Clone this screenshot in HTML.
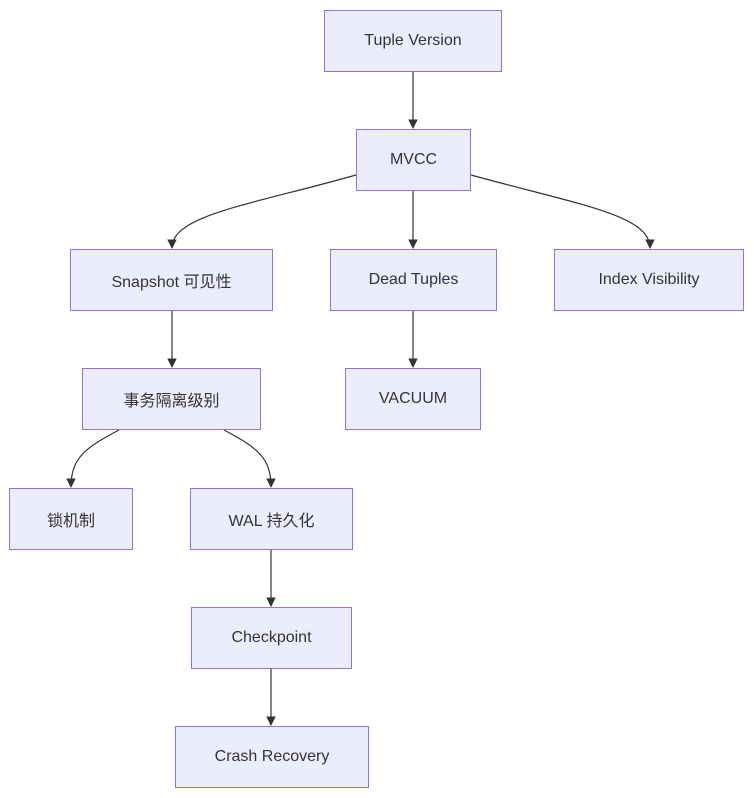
<!DOCTYPE html>
<html><head><meta charset="utf-8"><style>
html,body{margin:0;padding:0;background:#fff;}
body{width:754px;height:798px;position:relative;overflow:hidden;font-family:"Liberation Sans","Noto Sans CJK SC",sans-serif;}
.n{position:absolute;box-sizing:border-box;background:#ECECFF;border:1px solid #9370DB;color:#333;font-size:16px;display:flex;align-items:center;justify-content:center;white-space:nowrap;}
svg{position:absolute;left:0;top:0;}
</style></head><body>
<svg width="754" height="798" viewBox="0 0 754 798">
<defs><marker id="a" viewBox="0 0 10 10" refX="9" refY="5" markerWidth="8" markerHeight="8" orient="auto"><path d="M0,0L10,5L0,10z" fill="#333"/></marker></defs>
<g fill="none" stroke="#333" stroke-width="1.2">
<path d="M413,72V128" marker-end="url(#a)"/>
<path d="M356,175C250,205 172,215 172,248" marker-end="url(#a)"/>
<path d="M413,191V248" marker-end="url(#a)"/>
<path d="M471,175C580,205 650,215 650,248" marker-end="url(#a)"/>
<path d="M172,311V367" marker-end="url(#a)"/>
<path d="M413,311V367" marker-end="url(#a)"/>
<path d="M119,430C85,448 71,458 71,487" marker-end="url(#a)"/>
<path d="M224,430C258,448 271,458 271,487" marker-end="url(#a)"/>
<path d="M271,550V606" marker-end="url(#a)"/>
<path d="M271,669V725" marker-end="url(#a)"/>
</g></svg>
<div class="n" style="left:324px;top:10px;width:178px;height:62px">Tuple Version</div>
<div class="n" style="left:356px;top:129px;width:115px;height:62px">MVCC</div>
<div class="n" style="left:70px;top:249px;width:203px;height:62px">Snapshot 可见性</div>
<div class="n" style="left:330px;top:249px;width:167px;height:62px">Dead Tuples</div>
<div class="n" style="left:554px;top:249px;width:190px;height:62px">Index Visibility</div>
<div class="n" style="left:82px;top:368px;width:179px;height:62px">事务隔离级别</div>
<div class="n" style="left:345px;top:368px;width:136px;height:62px">VACUUM</div>
<div class="n" style="left:9px;top:488px;width:124px;height:62px">锁机制</div>
<div class="n" style="left:190px;top:488px;width:163px;height:62px">WAL 持久化</div>
<div class="n" style="left:191px;top:607px;width:161px;height:62px">Checkpoint</div>
<div class="n" style="left:175px;top:726px;width:194px;height:62px">Crash Recovery</div>
</body></html>
